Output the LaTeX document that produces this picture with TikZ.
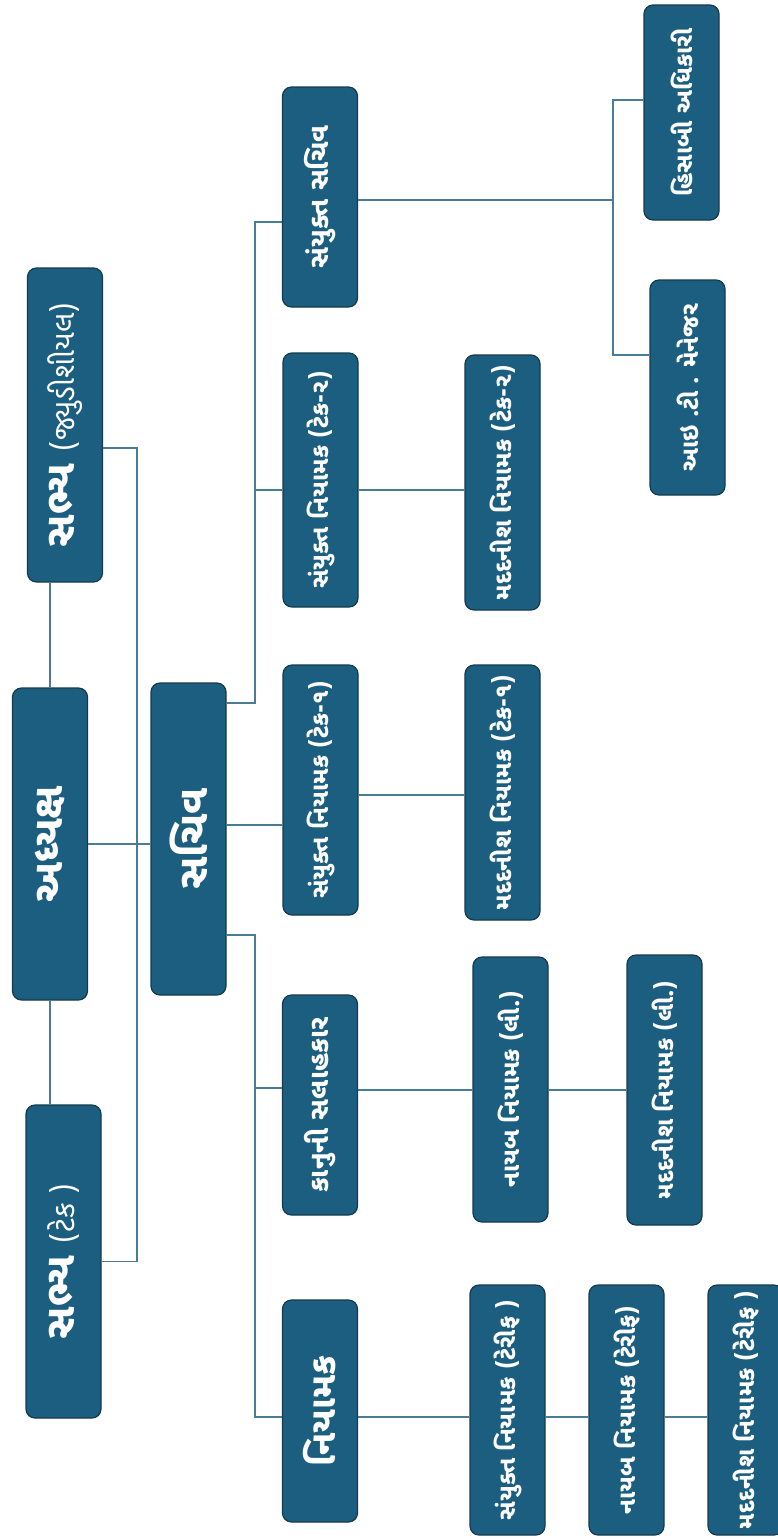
\documentclass[tikz,border=0pt]{standalone}
\usepackage{fontspec}
\newfontfamily\guj[Script=Gujarati]{Noto Sans Gujarati UI}
\definecolor{boxblue}{HTML}{1B5E80}
\definecolor{boxedge}{HTML}{163A4C}
\definecolor{linkblue}{HTML}{4A7C96}
\newcommand{\vtext}[1]{\rotatebox{90}{#1}}
\newcommand{\paren}[1]{{\mdseries\fontsize{30}{34}\selectfont #1}}
\begin{document}
\begin{tikzpicture}[x=1pt,y=-1pt,
    post/.style ={rectangle, rounded corners=9pt, draw=boxedge, fill=boxblue, line width=1.2pt, text=white, inner sep=0pt, minimum width=75pt, font=\guj\bfseries\fontsize{24}{28}\selectfont},
    head/.style ={post, font=\guj\bfseries\fontsize{42}{48}\selectfont},
    link/.style ={linkblue, line width=1.8pt}]
 \useasboundingbox (0,0) rectangle (778,1540);
 % top level
 \node[head, minimum height=313pt] (ST) at (63.5,1261.5) {\vtext{સભ્ય \paren{(ટેક )}}};
 \node[head, minimum height=312pt] (A)  at (50,844)      {\vtext{અધ્યક્ષ}};
 \node[head, minimum height=314pt] (SJ) at (65,425)      {\vtext{સભ્ય \paren{(જ્યુડીશીયલ)}}};
 \node[head, minimum height=312pt] (S)  at (188.5,839)   {\vtext{સચિવ}};
 % second level
 \node[post, minimum height=222pt, font=\guj\bfseries\fontsize{36}{40}\selectfont] (N) at (320,1411) {\vtext{નિયામક}};
 \node[post, minimum height=220pt, font=\guj\bfseries\fontsize{27}{32}\selectfont] (K)  at (320,1105)  {\vtext{કાનુની સલાહકાર}};
 \node[post, minimum height=250pt] (T1) at (320.5,790) {\vtext{સંયુક્ત નિયામક (ટેક-૧)}};
 \node[post, minimum height=254pt] (T2) at (320.5,480) {\vtext{સંયુક્ત નિયામક (ટેક-૨)}};
 \node[post, minimum height=220pt, font=\guj\bfseries\fontsize{27}{30}\selectfont] (JS) at (320,197)   {\vtext{સંયુક્ત સચિવ}};
 % third level
 \node[post, minimum height=250pt] (TS) at (507.5,1410) {\vtext{સંયુક્ત નિયામક (ટેરીફ )}};
 \node[post, minimum height=250pt] (TN) at (626.5,1410) {\vtext{નાયબ નિયામક (ટેરીફ)}};
 \node[post, minimum height=250pt] (TM) at (745.5,1410) {\vtext{મદદનીશ નિયામક (ટેરીફ )}};
 \node[post, minimum height=265pt] (NL) at (510.5,1089.5) {\vtext{નાયબ નિયામક (લી.)}};
 \node[post, minimum height=270pt] (ML) at (664.5,1090)   {\vtext{મદદનીશ નિયામક (લી.)}};
 \node[post, minimum height=255pt] (M1) at (502.5,792.5)  {\vtext{મદદનીશ નિયામક (ટેક-૧)}};
 \node[post, minimum height=255pt] (M2) at (502.5,482.5)  {\vtext{મદદનીશ નિયામક (ટેક-૨)}};
 \node[post, minimum height=215pt] (IT) at (687.5,387.5)  {\vtext{આઇ .ટી . મેનેજર}};
 \node[post, minimum height=215pt] (H)  at (681.5,112.5)  {\vtext{હિસાબી અધિકારી}};
 % elbows
 \coordinate (J) at (137,844);
 \coordinate (U) at (255,222);
 \coordinate (L) at (255,1417);
 \coordinate (R) at (613,355);
 % links
 \draw[link] (A.north) -- (A.north |- SJ.south);
 \draw[link] (A.south) -- (A.south |- ST.north);
 \draw[link] (SJ.east |- 0,448) -| (J) |- (ST.east);
 \draw[link] (A.east) -- (A.east -| S.west);
 \draw[link] (S.east |- 0,703) -| (U) -- (JS.west |- U);
 \draw[link] (U |- 0,490) -- (T2.west |- 0,490);
 \draw[link] (S.east |- 0,825) -- (T1.west |- 0,825);
 \draw[link] (S.east |- 0,935) -| (L) -- (N.west |- L);
 \draw[link] (L |- 0,1088) -- (K.west |- 0,1088);
 \draw[link] (T2.east |- 0,490) -- (M2.west |- 0,490);
 \draw[link] (T1.east |- 0,795) -- (M1.west |- 0,795);
 \draw[link] (K.east |- 0,1090) -- (NL.west |- 0,1090);
 \draw[link] (NL.east |- 0,1090) -- (ML.west |- 0,1090);
 \draw[link] (N.east |- L) -- (TS.west |- L);
 \draw[link] (TS.east |- L) -- (TN.west |- L);
 \draw[link] (TN.east |- L) -- (TM.west |- L);
 \draw[link] (JS.east |- 0,200) -- (R |- 0,200);
 \draw[link] (H.west |- 0,100) -| (R) -- (IT.west |- R);
\end{tikzpicture}
\end{document}
